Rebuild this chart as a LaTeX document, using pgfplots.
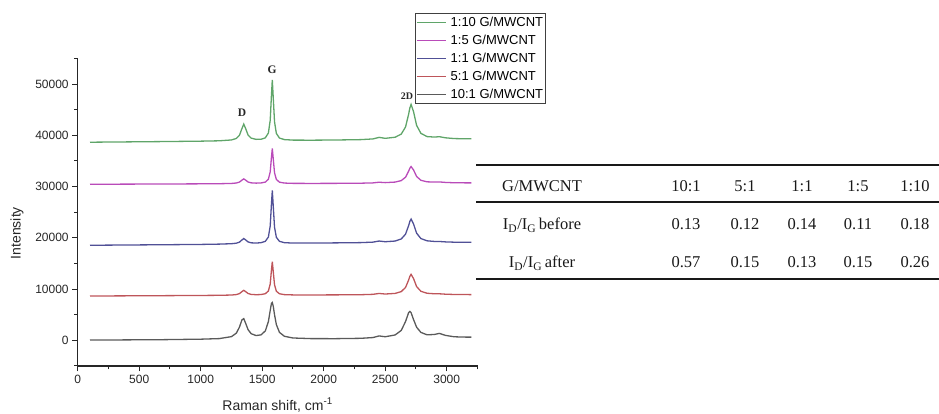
\documentclass[border=0pt]{standalone}
\usepackage{fontspec}
\setmainfont{Liberation Sans}
\newfontfamily\tabfont{Liberation Serif}
\newfontfamily\serifplain{Liberation Serif}
\usepackage{pgfplots}
\usepackage{pgfplotstable}
\pgfplotsset{compat=1.18}

\definecolor{cgreen}{RGB}{95,165,105}
\definecolor{cmag}{RGB}{185,75,185}
\definecolor{cblue}{RGB}{80,80,150}
\definecolor{cred}{RGB}{190,85,90}
\definecolor{cgray}{RGB}{90,90,90}

\pgfplotstableread{
x g m b r k
100 38652 30450 18551 8651 56
400 38713 30475 18602 8684 95
700 38777 30499 18654 8720 139
1000 38856 30532 18713 8760 231
1150 38925 30556 18773 8788 343
1250 39092 30608 18853 8843 726
1290 39389 30694 18957 8932 1421
1315 40015 30875 19164 9120 2589
1335 41314 31249 19583 9505 4000
1350 42182 31499 19863 9763 4234
1365 41328 31255 19598 9512 3346
1385 40049 30892 19202 9138 2093
1410 39451 30726 19026 8965 1303
1450 39208 30669 18981 8905 935
1490 39227 30704 19052 8938 1073
1525 39497 30871 19312 9097 1837
1550 40446 31423 20152 9624 3652
1565 42917 32853 22317 10991 5847
1575 47818 35689 26604 13699 7202
1582 50823 37430 29233 15359 7382
1590 47176 35320 26046 13345 6611
1600 42629 32690 22074 10834 5008
1615 40367 31381 20100 9585 3070
1640 39467 30862 19318 9089 1564
1680 39160 30683 19056 8920 800
1750 39062 30625 18978 8867 464
1900 39047 30612 18979 8859 337
2100 39083 30625 19016 8874 333
2300 39154 30656 19065 8905 398
2400 39291 30715 19160 8978 547
2450 39594 30846 19375 9148 865
2500 39409 30770 19239 9040 707
2580 39620 30872 19372 9157 1050
2630 40229 31160 19776 9508 1934
2665 41626 31823 20712 10320 3669
2690 44097 32995 22370 11761 5395
2700 45321 33573 23189 12473 5644
2710 46022 33906 23659 12881 5405
2730 44617 33239 22713 12059 4059
2755 41934 31966 20908 10489 2563
2790 40376 31226 19856 9573 1550
2840 39747 30925 19416 9189 1081
2900 39655 30875 19295 9087 1149
2940 39726 30902 19287 9084 1360
2990 39510 30807 19207 9006 969
3060 39363 30742 19151 8951 702
3130 39327 30725 19134 8933 641
3200 39318 30720 19127 8924 627
}\spectra

\begin{document}
\begin{tikzpicture}
\begin{axis}[
  at={(77.7pt,48pt)}, anchor=south west,
  scale only axis, width=399.8pt, height=307.6pt,
  xmin=0, xmax=3250, ymin=-5000, ymax=55000,
  axis x line*=bottom, axis y line*=left,
  x axis line style={-}, y axis line style={-},
  axis line style={line width=1.1pt, black!85},
  xtick={0,500,...,3000}, minor xtick={250,750,...,3250},
  ytick={0,10000,...,50000}, minor ytick={-5000,5000,...,55000},
  tick align=outside, major tick length=5.5pt, minor tick length=3.5pt,
  every tick/.style={line width=1pt, black!85},
  scaled y ticks=false, scaled x ticks=false,
  /pgf/number format/1000 sep={},
  /pgf/number format/assume math mode=true,
  ticklabel style={font=\fontsize{12}{14}\selectfont, text=black!85},
  xlabel={Raman shift, cm\textsuperscript{-1}},
  ylabel={Intensity},
  label style={font=\fontsize{14}{16}\selectfont, text=black!85},
  xlabel style={at={(axis description cs:0.5,-0.127)}, anchor=center},
  ylabel style={at={(axis description cs:-0.152,0.432)}, anchor=center, rotate=0},
  clip=false,
  legend style={
    at={(axis description cs:0.8437,1.1476)}, anchor=north west,
    draw=black!75, line width=0.9pt,
    font=\fontsize{13}{15}\selectfont,
    inner xsep=1pt, inner ysep=0pt,
    row sep=0pt,
    nodes={inner sep=0pt, inner xsep=1.5pt, minimum height=18pt},
  },
  legend cell align=left,
  legend image code/.code={\draw[#1, line width=0.7pt] (0pt,0pt) -- (29pt,0pt);},
  /tikz/every odd column/.append style={column sep=3pt},
]
\addplot[cgreen, line width=1.3pt] table[x=x, y=g] {\spectra};
\addlegendentry{1:10 G/MWCNT}
\addplot[cmag, line width=1.3pt] table[x=x, y=m] {\spectra};
\addlegendentry{1:5 G/MWCNT}
\addplot[cblue, line width=1.3pt] table[x=x, y=b] {\spectra};
\addlegendentry{1:1 G/MWCNT}
\addplot[cred, line width=1.3pt] table[x=x, y=r] {\spectra};
\addlegendentry{5:1 G/MWCNT}
\addplot[cgray, line width=1.3pt] table[x=x, y=k] {\spectra};
\addlegendentry{10:1 G/MWCNT}
\node[font=\serifplain\bfseries\fontsize{11.5}{13}\selectfont, text=black!85] at (axis cs:1336,44350) {D};
\node[font=\serifplain\bfseries\fontsize{11.5}{13}\selectfont, text=black!85] at (axis cs:1580,52740) {G};
\node[font=\serifplain\bfseries\fontsize{10}{12}\selectfont, text=black!85] at (axis cs:2677,47660) {2D};
\end{axis}
% table
\draw[line width=1.2pt, black!90] (476pt,249pt) -- (939pt,249pt);
\draw[line width=1.2pt, black!90] (476pt,212pt) -- (939pt,212pt);
\draw[line width=1.2pt, black!90] (476pt,135pt) -- (939pt,135pt);
\begin{scope}[every node/.style={font=\tabfont\fontsize{16.5}{18}\selectfont, text=black!90, inner sep=0pt, anchor=base}]
\node at (542pt,222pt) {G/MWCNT};
\node at (542pt,184pt) {I\textsubscript{D}/I\textsubscript{G}\,before};
\node at (542pt,146pt) {I\textsubscript{D}/I\textsubscript{G}\,after};
\node at (686pt,222pt) {10:1};
\node at (745pt,222pt) {5:1};
\node at (802pt,222pt) {1:1};
\node at (858pt,222pt) {1:5};
\node at (915pt,222pt) {1:10};
\node at (686pt,184pt) {0.13};
\node at (745pt,184pt) {0.12};
\node at (802pt,184pt) {0.14};
\node at (858pt,184pt) {0.11};
\node at (915pt,184pt) {0.18};
\node at (686pt,146pt) {0.57};
\node at (745pt,146pt) {0.15};
\node at (802pt,146pt) {0.13};
\node at (858pt,146pt) {0.15};
\node at (915pt,146pt) {0.26};
\end{scope}
\pgfresetboundingbox
\path[use as bounding box] (0pt,0pt) rectangle (939pt,414pt);
\end{tikzpicture}
\end{document}
